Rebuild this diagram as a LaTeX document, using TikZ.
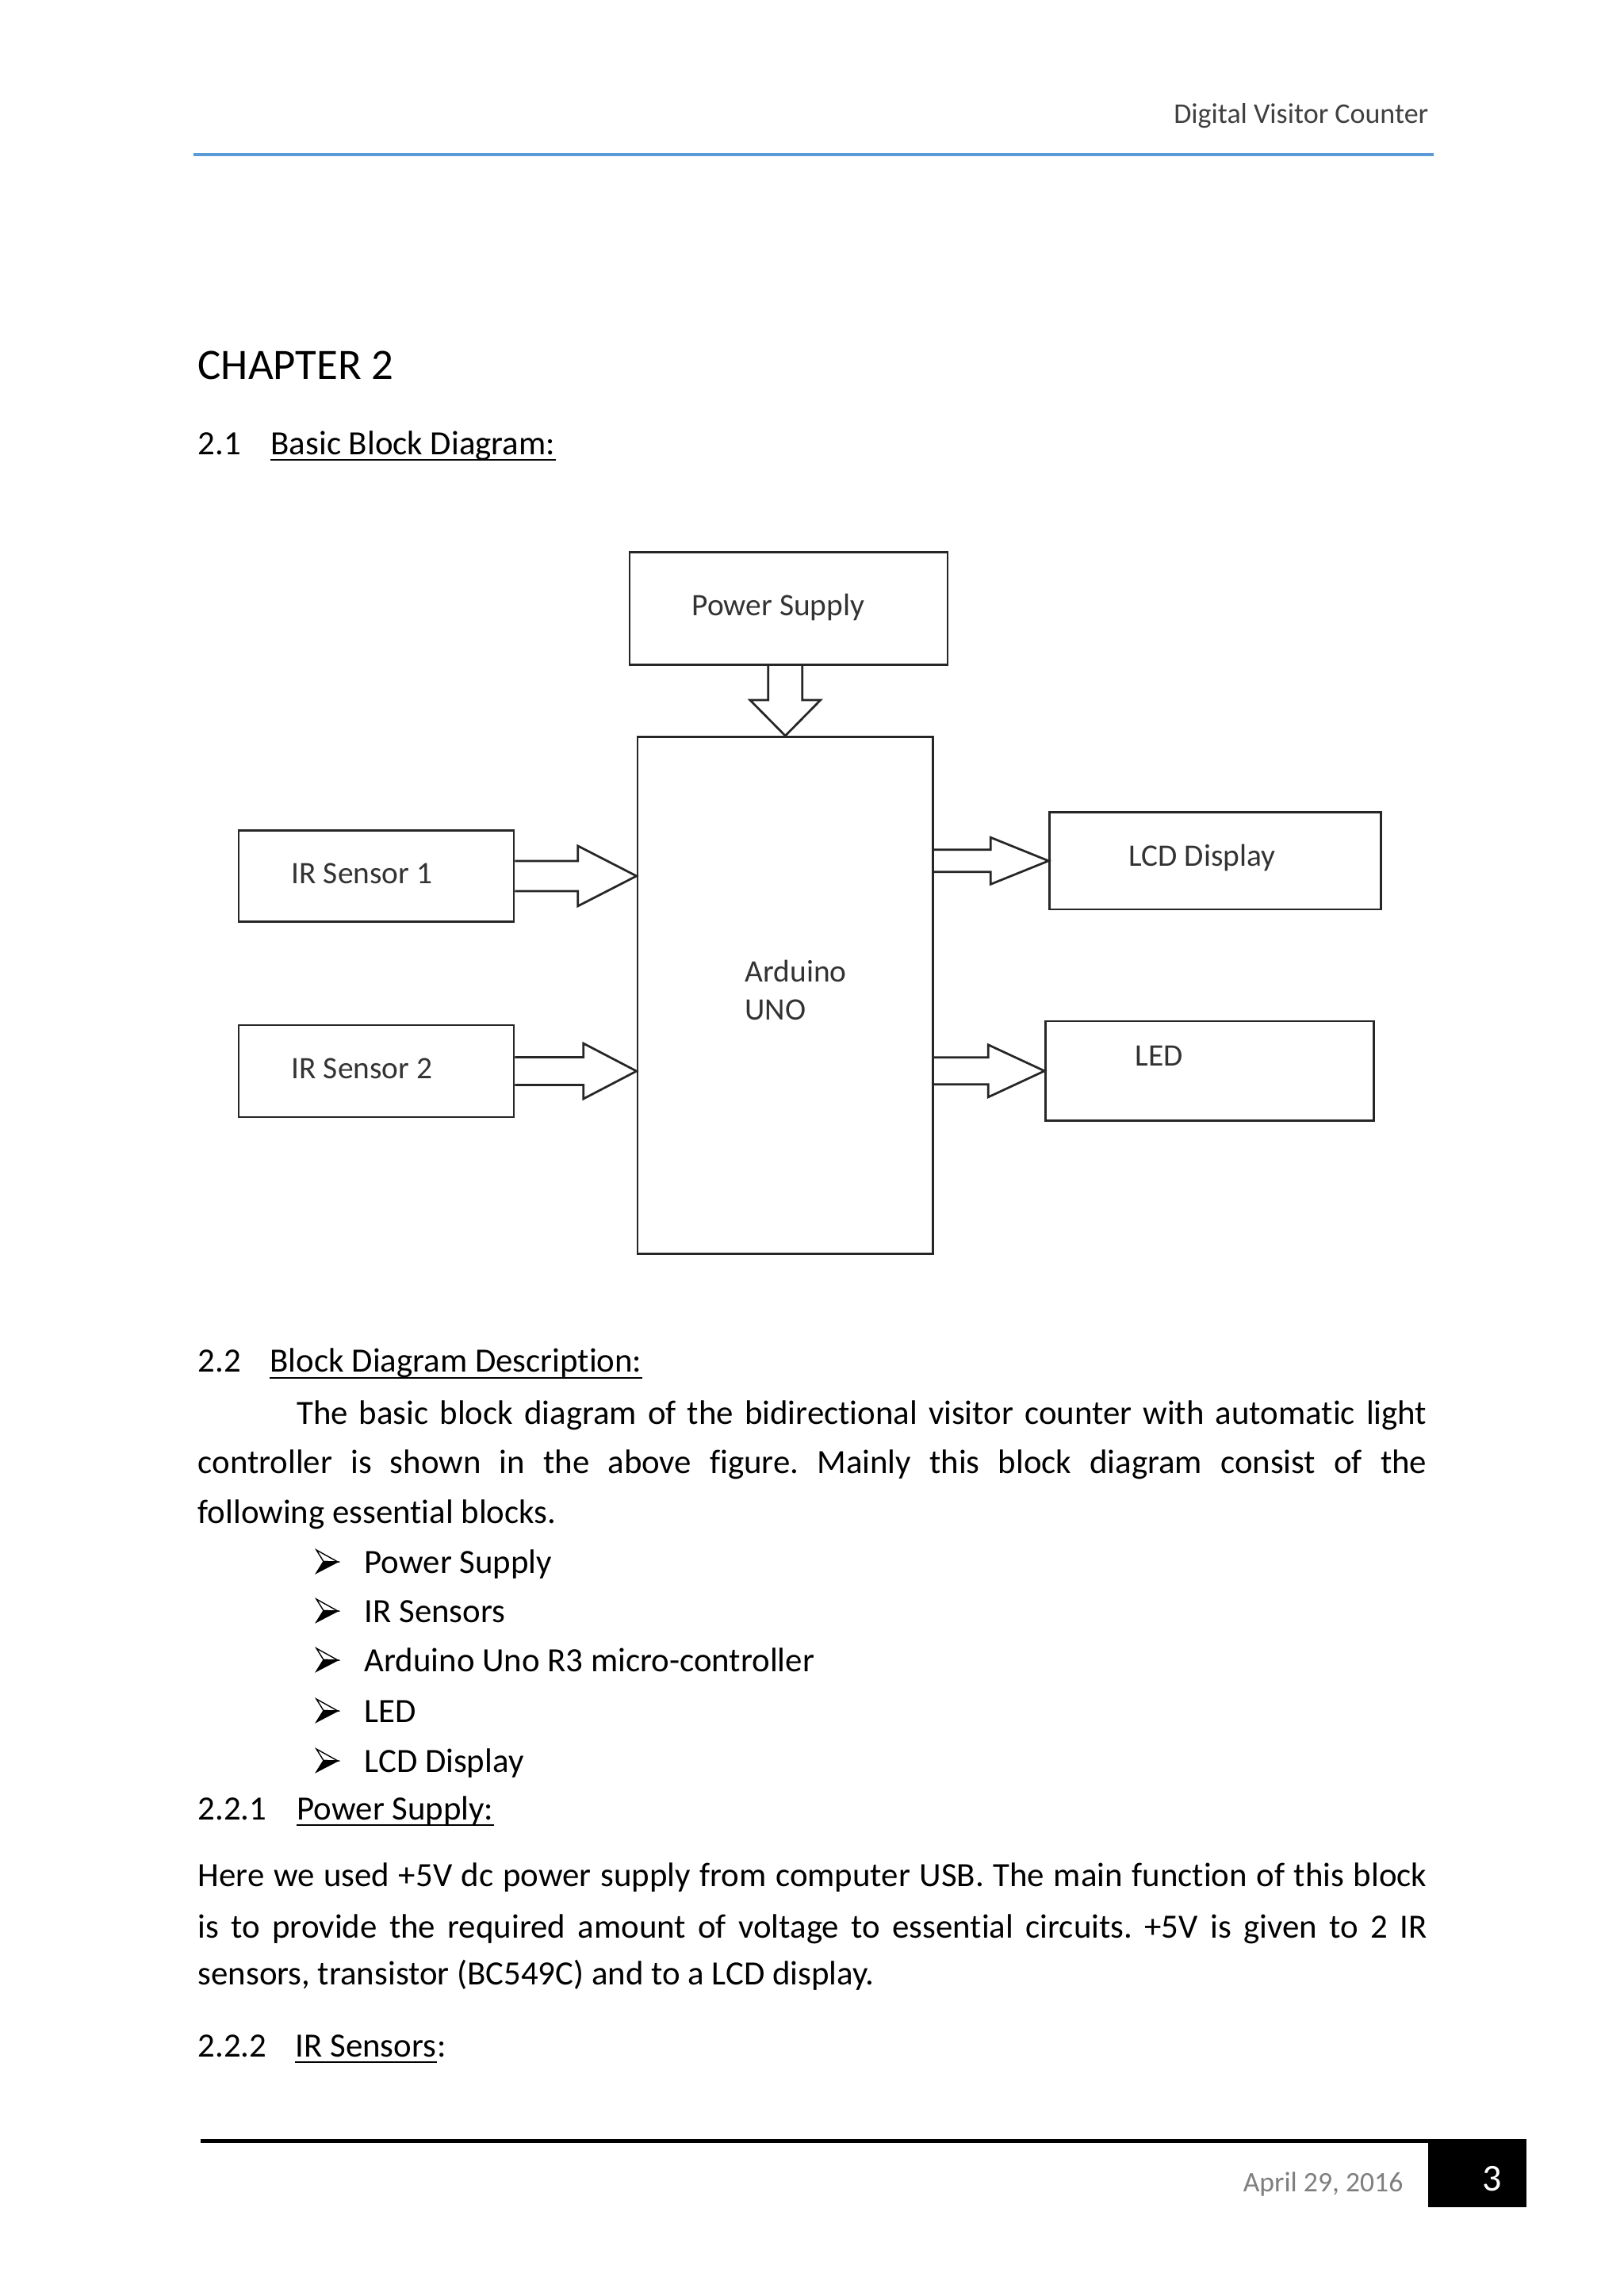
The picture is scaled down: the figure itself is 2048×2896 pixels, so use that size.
\documentclass[tikz,border=0pt]{standalone}
\usepackage{fontspec}
\setmainfont{Carlito}[Ligatures=NoCommon]
\usepackage{tikz}
\usetikzlibrary{calc}

\newdimen\px \px=0.10254mm
\definecolor{rulblue}{HTML}{5B9BD5}
\definecolor{headgray}{HTML}{404040}
\definecolor{dategray}{HTML}{7F7F7F}

% hollow block arrow: start, tip, shaft half width, head half width, head length
\newcommand{\fatarrow}[5]{%
  \draw[blockline] ($(#1)+(0,#3)$) -- ($(#2)+(-#5,#3)$) -- ($(#2)+(-#5,#4)$) -- (#2)
    -- ($(#2)+(-#5,-#4)$) -- ($(#2)+(-#5,-#3)$) -- ($(#1)+(0,-#3)$);}

\frenchspacing
\begin{document}
\begin{tikzpicture}[x=0.10254mm, y=-0.10254mm,
  block/.style n args={2}{draw=black!85, line width=0.8pt, inner sep=0pt,
    minimum width=#1*0.10254mm, minimum height=#2*0.10254mm},
  blockline/.style={draw=black!85, line width=0.8pt, line join=miter},
  lbl/.style={inner sep=0pt, text=black!80, font=\fontsize{11.5}{14}\selectfont},
  body/.style={inner sep=0pt, font=\fontsize{12.5}{15}\selectfont},
  uline/.style={line width=0.6pt},
  pointer/.pic={
    \filldraw[line width=0.4pt, line join=miter, fill=white] (0,0) -- (27,15) -- (9,14.5) -- cycle;
    \filldraw[line width=0.4pt, line join=miter] (0,29) -- (27,15) -- (9,14.5) -- cycle;}]

\fill[white] (0,0) rectangle (2048,2896);
\useasboundingbox (0,0) rectangle (2048,2896);

% page header
\node[inner sep=0pt, anchor=base east, text=headgray, font=\fontsize{10.5}{12}\selectfont] (hdr) at (1802,155) {Digital Visitor Counter};
\coordinate (hl) at (244,195);
\coordinate (hr) at (1808,195);
\draw[rulblue, line width=0.9pt] (hl) -- (hr);

\node[inner sep=0pt, anchor=base west, font=\fontsize{16}{19}\selectfont] (chap) at (249,478) {CHAPTER 2};

% 2.1
\node[body, anchor=base west] (n21) at (249,573) {2.1};
\node[body, anchor=base west] (t21) at (341,573) {Basic Block Diagram:};
\draw[uline] ($(t21.base west)+(0,7)$) -- ($(t21.base east)+(0,7)$);

% block diagram
\node[block={401}{142}] (ps) at (994.5,767.7) {};
\node[block={372.5}{652}] (ard) at (990.3,1255.4) {};
\node[block={347}{115}] (ir1) at (474.5,1104.9) {};
\node[block={347}{116}] (ir2) at (474.5,1351) {};
\node[block={418}{122.5}] (lcd) at (1532.7,1085.8) {};
\node[block={414}{125.6}] (led) at (1525.6,1350.8) {};

\node[lbl, anchor=west] (psT) at (872,766) {Power Supply};
\node[lbl, anchor=west, align=left] (ardT) at (939,1249) {Arduino\\UNO};
\node[lbl, anchor=west] (ir1T) at (367,1102) {IR Sensor 1};
\node[lbl, anchor=west] (ir2T) at (367,1348) {IR Sensor 2};
\node[lbl, anchor=west] (lcdT) at (1423,1082) {LCD Display};
\node[lbl, anchor=west] (ledT) at (1431,1332) {LED};

\coordinate (t1) at (ard.west |- ir1.east);
\coordinate (t2) at (ard.west |- ir2.east);
\coordinate (t3) at (lcd.west |- lcd.west);
\coordinate (t4) at (led.west |- led.west);
\fatarrow{ir1.east}{t1}{19}{38}{74}
\fatarrow{ir2.east}{t2}{17.5}{35}{67}
\fatarrow{ard.east |- lcd.west}{t3}{14}{29.5}{73}
\fatarrow{ard.east |- led.west}{t4}{17}{33}{71}

\coordinate (s0) at (ps.south -| ard.north);
\draw[blockline] ($(s0)+(-21.5,0)$) -- ($(ard.north)+(-21.5,-45)$) -- ($(ard.north)+(-44.4,-45)$)
  -- (ard.north) -- ($(ard.north)+(44.4,-45)$) -- ($(ard.north)+(21.5,-45)$) -- ($(s0)+(21.5,0)$);

% 2.2
\node[body, anchor=base west] (n22) at (249,1730) {2.2};
\node[body, anchor=base west] (t22) at (340,1730) {Block Diagram Description:};
\draw[uline] ($(t22.base west)+(0,8)$) -- ($(t22.base east)+(0,8)$);

\node[body, anchor=base west] (p1) at (373.5,1796) {\makebox[1425.5\px][s]{The basic block diagram of the bidirectional visitor counter with automatic light}};
\node[body, anchor=base west] (p2) at (249,1858) {\makebox[1550\px][s]{controller is shown in the above figure. Mainly this block diagram consist of the}};
\node[body, anchor=base west] (p3) at (249,1921) {following essential blocks.};

\foreach \yy/\txt [count=\i] in {1984/Power Supply, 2046/IR Sensors,
    2108/Arduino Uno R3 micro-controller, 2172/LED, 2235/LCD Display}{
  \pic at (399,\yy-29) {pointer};
  \node[body, anchor=base west] (li\i) at (459,\yy) {\txt};
}

% 2.2.1
\node[body, anchor=base west] (n221) at (249,2295) {2.2.1};
\node[body, anchor=base west] (t221) at (374,2295) {Power Supply:};
\draw[uline] ($(t221.base west)+(0,7)$) -- ($(t221.base east)+(0,7)$);

\node[body, anchor=base west] (q1) at (249,2379) {\makebox[1550\px][s]{Here we used +5V dc power supply from computer USB. The main function of this block}};
\node[body, anchor=base west] (q2) at (249,2444) {\makebox[1550\px][s]{is to provide the required amount of voltage to essential circuits. +5V is given to 2 IR}};
\node[body, anchor=base west] (q3) at (249,2503) {sensors, transistor (BC549C) and to a LCD display.};

% 2.2.2
\node[body, anchor=base west] (n222) at (249,2594) {2.2.2};
\node[body, anchor=base west] (t222) at (372,2594) {IR Sensors};
\node[body, anchor=base west] (c222) at (t222.base east) {:};
\draw[uline] ($(t222.base west)+(0,7)$) -- ($(t222.base east)+(0,7)$);

% page footer
\coordinate (fl) at (253,2700);
\node[fill=black, inner sep=0pt, minimum width=124*0.10254mm, minimum height=85*0.10254mm, anchor=north west] (pg) at (1800,2698) {};
\draw[line width=1.45pt] (fl) -- (fl -| pg.east);
\node[inner sep=0pt, anchor=base, text=white, font=\fontsize{14}{16}\selectfont] (pgno) at (1882,2763) {3};
\node[inner sep=0pt, anchor=base east, text=dategray, font=\fontsize{10.4}{12}\selectfont] (date) at (1770,2764) {April 29, 2016};

\end{tikzpicture}
\end{document}
